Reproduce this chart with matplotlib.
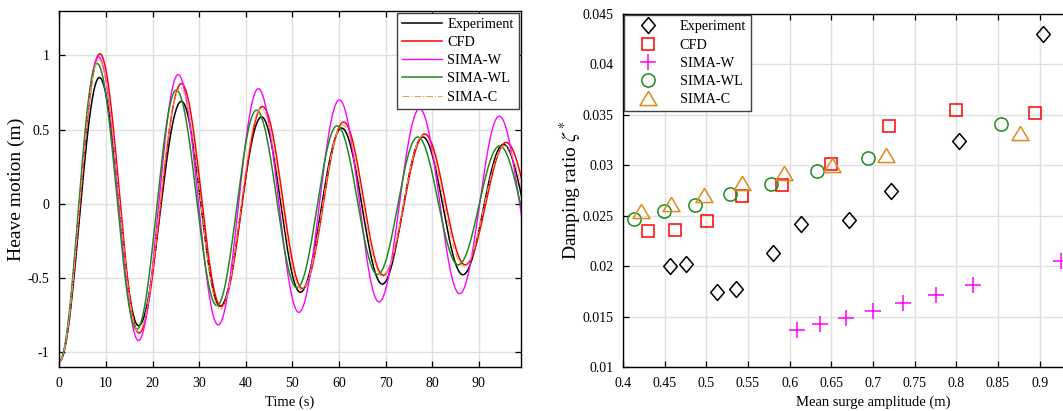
import numpy as np
import matplotlib.pyplot as plt
from matplotlib.lines import Line2D

plt.rcParams['font.family'] = ['Liberation Serif', 'DejaVu Serif']
plt.rcParams['mathtext.fontset'] = 'stix'

# heave decay: turning points (time s, heave m) of each record
exp_t = [0, 8.6, 17.0, 26.2, 34.5, 43.4, 51.7, 60.6, 69.3, 78.0, 86.6, 95.3, 104.0]
exp_y = [-1.06, 0.85, -0.82, 0.69, -0.69, 0.585, -0.595, 0.51, -0.54, 0.45, -0.477, 0.40, -0.44]
cfd_t = [0, 8.7, 17.1, 26.2, 34.7, 43.6, 52.2, 61.0, 69.5, 78.4, 87.1, 95.9, 104.6]
cfd_y = [-1.06, 1.01, -0.87, 0.81, -0.69, 0.655, -0.57, 0.55, -0.48, 0.47, -0.41, 0.413, -0.37]
simaw_t = [0, 8.4, 17.0, 25.5, 34.1, 42.7, 51.4, 60.1, 68.6, 77.3, 85.9, 94.4, 103.0]
simaw_y = [-1.06, 0.99, -0.92, 0.87, -0.815, 0.775, -0.73, 0.70, -0.66, 0.64, -0.605, 0.59, -0.56]
simawl_t = [0, 8.1, 16.6, 25.1, 33.8, 42.3, 51.0, 59.6, 68.3, 76.9, 85.6, 94.5, 103.1]
simawl_y = [-1.06, 0.945, -0.845, 0.765, -0.685, 0.63, -0.565, 0.525, -0.475, 0.45, -0.41, 0.39, -0.35]
simac_t = [0, 8.5, 17.0, 26.0, 34.5, 43.3, 52.0, 60.8, 69.4, 78.1, 86.8, 95.5, 104.2]
simac_y = [-1.06, 0.97, -0.86, 0.78, -0.71, 0.64, -0.58, 0.53, -0.49, 0.46, -0.42, 0.39, -0.37]

# damping ratio vs mean surge amplitude
exp_a = [0.456, 0.4756, 0.5124, 0.5353, 0.580, 0.613, 0.6706, 0.721, 0.8035, 0.904]
exp_z = [0.0200, 0.0202, 0.0175, 0.0178, 0.0213, 0.0242, 0.0246, 0.0275, 0.0324, 0.0430]
cfd_a = [0.4298, 0.4626, 0.5002, 0.543, 0.5913, 0.650, 0.7197, 0.7998, 0.8947]
cfd_z = [0.0235, 0.0236, 0.0245, 0.0270, 0.0281, 0.0301, 0.0339, 0.0355, 0.0352]
simaw_a = [0.6089, 0.6359, 0.667, 0.6997, 0.7357, 0.7757, 0.8199, 0.926]
simaw_z = [0.0137, 0.0143, 0.0149, 0.0156, 0.0164, 0.0172, 0.0182, 0.0205]
simawl_a = [0.4135, 0.449, 0.4859, 0.5288, 0.577, 0.6322, 0.6944, 0.853]
simawl_z = [0.0247, 0.0255, 0.0261, 0.0272, 0.0282, 0.0294, 0.0307, 0.0341]
simac_a = [0.4213, 0.457, 0.4969, 0.5423, 0.5934, 0.6506, 0.716, 0.8763]
simac_z = [0.0255, 0.0262, 0.0271, 0.0283, 0.0292, 0.0300, 0.0310, 0.0332]

names = ['Experiment', 'CFD', 'SIMA-W', 'SIMA-WL', 'SIMA-C']
green = '#1f8a1f'
orange = '#e0891e'


def swing(tk, yk, n=60):
    # half-cosine between successive turning points
    tt, yy = [], []
    for i in range(len(tk) - 1):
        s = np.linspace(0, 1, n, endpoint=False)
        tt.append(tk[i] + (tk[i + 1] - tk[i]) * s)
        yy.append(yk[i] + (yk[i + 1] - yk[i]) * (1 - np.cos(np.pi * s)) / 2)
    return np.concatenate(tt), np.concatenate(yy)


def style(ax):
    ax.grid(True, color='#e0e0e0', lw=1.0)
    ax.set_axisbelow(True)
    ax.tick_params(direction='in', top=True, right=True, length=4, width=0.9,
                   labelsize=10, pad=7)
    for s in ax.spines.values():
        s.set_linewidth(1.0)


fig = plt.figure(figsize=(10.63, 4.11), dpi=100)
W, H = 1063, 411

# left: heave decay
ax1 = fig.add_axes([59.3 / W, 43.7 / H, 461.4 / W, 356.6 / H])
for tk, yk, c, ls, lw, lab in [(exp_t, exp_y, 'black', '-', 1.1, names[0]),
                                (cfd_t, cfd_y, 'red', '-', 1.1, names[1]),
                                (simaw_t, simaw_y, 'magenta', '-', 1.0, names[2]),
                                (simawl_t, simawl_y, green, '-', 1.1, names[3]),
                                (simac_t, simac_y, '#eea060', '-.', 0.8, names[4])]:
    t, y = swing(tk, yk)
    ax1.plot(t, y, color=c, ls=ls, lw=lw, label=lab)
ax1.set_xlim(0, 99)
ax1.set_ylim(-1.1, 1.3)
ax1.set_xticks(np.arange(0, 100, 10))
ax1.set_yticks([-1, -0.5, 0, 0.5, 1])
ax1.set_yticklabels(['-1', '-0.5', '0', '0.5', '1'])
ax1.set_xlabel('Time (s)', fontsize=10.5, labelpad=4)
ax1.set_ylabel('Heave motion (m)', fontsize=14, labelpad=2)
style(ax1)
leg1 = ax1.legend(loc='upper right', fontsize=10.3, handlelength=2.8,
                  handletextpad=0.35, labelspacing=0.36, borderpad=0.35,
                  borderaxespad=0.15, fancybox=False, framealpha=1,
                  edgecolor='#404040')
leg1.get_frame().set_linewidth(1.0)

# right: damping ratio
ax2 = fig.add_axes([623 / W, 43.7 / H, 500 / W, 353.3 / H])
diamond = [(0, 1), (0.85, 0), (0, -1), (-0.85, 0), (0, 1)]
tri = [(0, 1), (1.2, -1), (-1.2, -1), (0, 1)]
ax2.plot(exp_a, exp_z, ls='none', marker=diamond, ms=11.5, mfc='none', mec='black', mew=1.1)
ax2.plot(cfd_a, cfd_z, ls='none', marker='s', ms=8, mfc='none', mec='red', mew=1.1)
ax2.plot(simaw_a, simaw_z, ls='none', marker='+', ms=11, mec='magenta', mew=1.1)
ax2.plot(simawl_a, simawl_z, ls='none', marker='o', ms=9.5, mfc='none', mec=green, mew=1.1)
ax2.plot(simac_a, simac_z, ls='none', marker=tri, ms=12.2, mfc='none', mec=orange, mew=1.1)
ax2.set_xlim(0.4, 1.0)
ax2.set_ylim(0.01, 0.045)
ax2.set_xticks(np.arange(0.4, 0.91, 0.05))
ax2.set_xticklabels(['0.4', '0.45', '0.5', '0.55', '0.6', '0.65', '0.7', '0.75',
                     '0.8', '0.85', '0.9'])
ax2.set_yticks(np.arange(0.01, 0.0451, 0.005))
ax2.set_yticklabels(['0.01', '0.015', '0.02', '0.025', '0.03', '0.035', '0.04', '0.045'])
ax2.set_xlabel('Mean surge amplitude (m)', fontsize=10.5, labelpad=4)
ax2.set_ylabel(r'Damping ratio $\zeta^*$', fontsize=14, labelpad=-1)
style(ax2)
handles = [Line2D([], [], ls='none', marker=diamond, ms=11.5, mfc='none', mec='black', mew=1.1),
           Line2D([], [], ls='none', marker='s', ms=8, mfc='none', mec='red', mew=1.1),
           Line2D([], [], ls='none', marker='+', ms=11, mec='magenta', mew=1.1),
           Line2D([], [], ls='none', marker='o', ms=9.5, mfc='none', mec=green, mew=1.1),
           Line2D([], [], ls='none', marker=tri, ms=12.2, mfc='none', mec=orange, mew=1.1)]
leg2 = ax2.legend(handles, names, loc='upper left', fontsize=10.3, handlelength=2.6,
                  handletextpad=0.9, labelspacing=0.36, borderpad=0.35,
                  borderaxespad=0.1, fancybox=False, framealpha=1,
                  edgecolor='#404040')
leg2.get_frame().set_linewidth(1.0)

fig.savefig('out.png', dpi=100)
